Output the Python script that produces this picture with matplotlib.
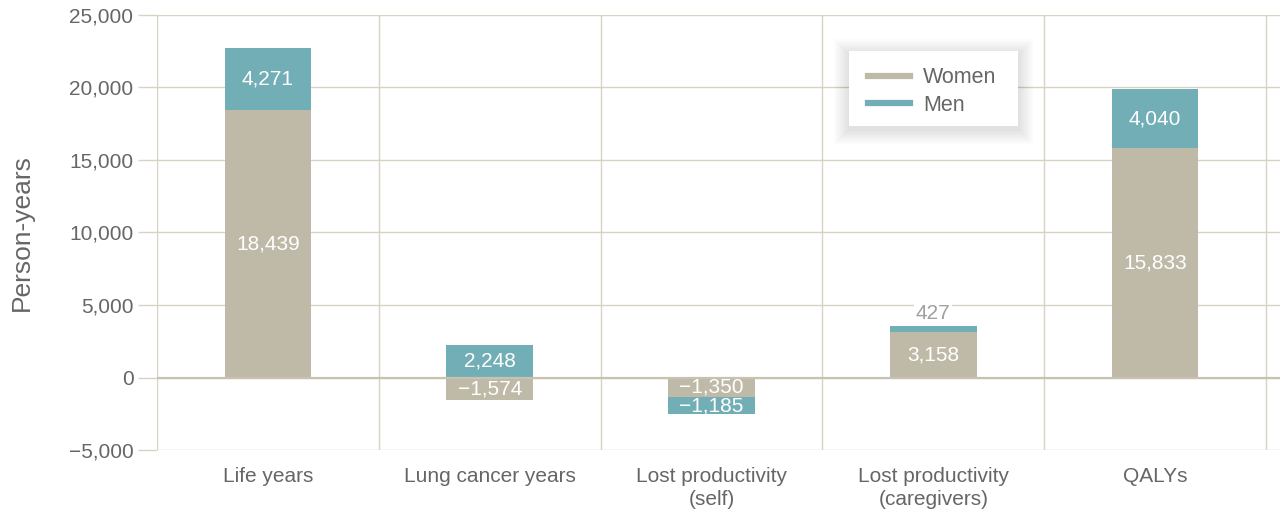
import numpy as np
import matplotlib.pyplot as plt
from matplotlib.lines import Line2D
from matplotlib.patches import Rectangle
from matplotlib.ticker import FuncFormatter

plt.rcParams['font.family'] = ['Liberation Sans', 'DejaVu Sans']

categories = ['Life years', 'Lung cancer years', 'Lost productivity\n(self)',
              'Lost productivity\n(caregivers)', 'QALYs']
women = [18439, -1574, -1350, 3158, 15833]
men = [4271, 2248, -1185, 427, 4040]
yticks = [-5000, 0, 5000, 10000, 15000, 20000, 25000]

C_WOMEN = '#bfb9a7'
C_MEN = '#72aeb5'
C_GRID = '#d8d2c5'
C_TEXT = '#666666'


def fmt(v):
    s = f'{abs(v):,.0f}'
    return ('\u2212' + s) if v < 0 else s


fig = plt.figure(figsize=(12.8, 5.13), dpi=100)
ax = fig.add_axes([157/1280, 63/513, 1 - 157/1280, 435/513])

x = np.arange(len(categories))
w = 0.39
women = np.array(women)
men = np.array(men)
# men stack on top of women if same sign, otherwise start from zero
men_bottom = np.where(np.sign(men) == np.sign(women), women, 0)

ax.bar(x, women, w, color=C_WOMEN, zorder=3)
ax.bar(x, men, w, bottom=men_bottom, color=C_MEN, zorder=3)

for i in range(len(x)):
    ax.text(x[i], women[i] / 2, fmt(women[i]), ha='center', va='center',
            color='white', fontsize=15, zorder=4)
    if abs(men[i]) < 1000:
        top = men_bottom[i] + men[i]
        ax.text(x[i], top + 800, fmt(men[i]), ha='center', va='center',
                color='#a0a0a0', fontsize=15, zorder=4,
                bbox=dict(facecolor='white', edgecolor='none', pad=1))
    else:
        ax.text(x[i], men_bottom[i] + men[i] / 2, fmt(men[i]), ha='center',
                va='center', color='white', fontsize=15, zorder=4)

ax.set_xlim(-0.5, 4.5 + 14/222)
ax.set_ylim(-5000, 25000)
ax.set_yticks(yticks)
ax.yaxis.set_major_formatter(FuncFormatter(lambda v, p: fmt(v)))
ax.set_xticks(x)
ax.set_xticklabels(categories, linespacing=1.3)

for b in np.arange(-0.5, 4.6, 1.0):
    ax.axvline(b, color=C_GRID, lw=1, zorder=1)
for yv in yticks:
    ax.axhline(yv, color=C_GRID, lw=1, zorder=1)
ax.axhline(0, color='#c8c2b3', lw=1.6, zorder=3.5)

for s in ax.spines.values():
    s.set_visible(False)
ax.tick_params(axis='y', length=14, color=C_GRID, width=1, pad=3,
               labelsize=15, labelcolor=C_TEXT)
ax.tick_params(axis='x', length=0, pad=12, labelsize=15, labelcolor=C_TEXT)
ax.set_ylabel('Person-years', fontsize=19, color=C_TEXT)
ax.yaxis.set_label_coords(-123/1123, 0.5)

# soft shadow behind the legend
lx0, ly0, lw_, lh = 849/1280, (513-126)/513, 169/1280, 75/513
for k in range(10, 0, -1):
    d = k * 1.5
    fig.patches.append(Rectangle((lx0 - d/1280, ly0 - (d + 3)/513),
                                 lw_ + 2*d/1280, lh + 2*d/513,
                                 transform=fig.transFigure, facecolor='black',
                                 edgecolor='none', alpha=0.013, zorder=5))
fig.patches.append(Rectangle((lx0, ly0), lw_, lh, transform=fig.transFigure,
                             facecolor='white', edgecolor='none', zorder=6))

handles = [Line2D([], [], color=C_WOMEN, lw=4.5),
           Line2D([], [], color=C_MEN, lw=4.5)]
leg = fig.legend(handles, ['Women', 'Men'], loc='upper left',
                 bbox_to_anchor=(849/1280, (513-48)/513), frameon=False,
                 fontsize=15.5, handlelength=1.95, handletextpad=0.6,
                 labelspacing=0.3, labelcolor=C_TEXT)
leg.set_zorder(7)

fig.savefig('out.png', dpi=100)
